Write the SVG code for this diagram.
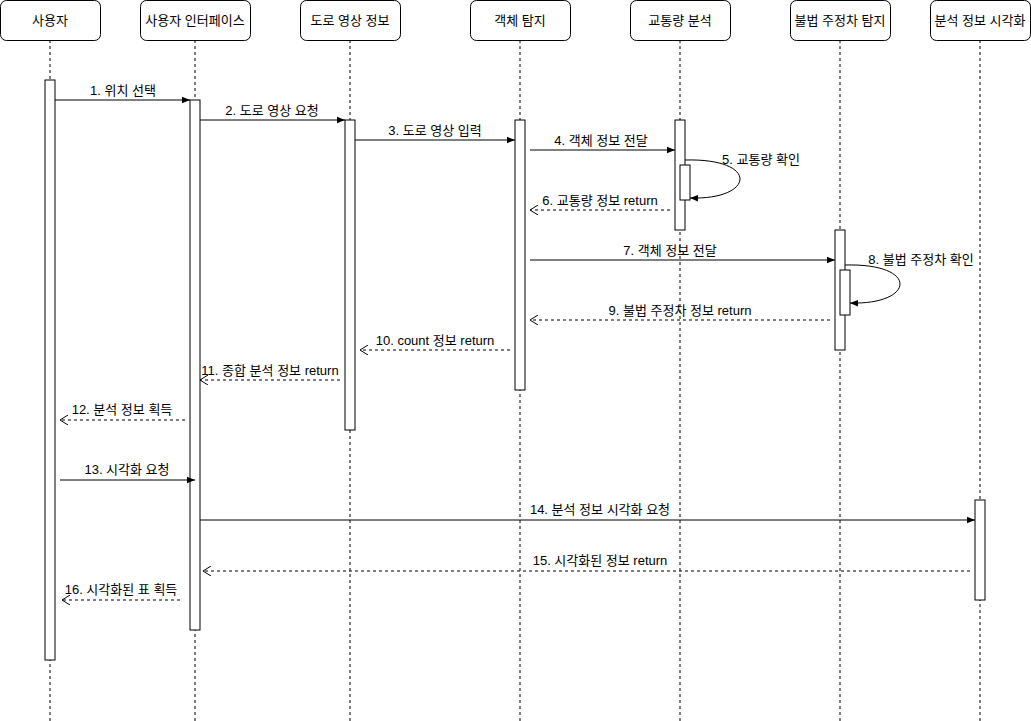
<svg xmlns="http://www.w3.org/2000/svg" width="1031" height="721" viewBox="0 0 1031 721">
<defs>
<marker id="block" viewBox="0 0 10 10" refX="10" refY="5" markerWidth="8" markerHeight="8" markerUnits="userSpaceOnUse" orient="auto">
<path d="M0,1 L10,5 L0,9 Z" fill="#000"/>
</marker>
<marker id="open" viewBox="0 0 10 10" refX="9" refY="5" markerWidth="10" markerHeight="10" markerUnits="userSpaceOnUse" orient="auto">
<path d="M1,0 L9,5 L1,10" fill="none" stroke="#000" stroke-width="1"/>
</marker>
</defs>
<style>
.hdr{fill:#fff;stroke:#000;stroke-width:1}
.life{stroke:#000;stroke-width:1;stroke-dasharray:3 3;fill:none}
.act{fill:#fff;stroke:#000;stroke-width:1}
.msg{stroke:#000;stroke-width:1;fill:none;marker-end:url(#block)}
.ret{stroke:#000;stroke-width:1;stroke-dasharray:3 3;fill:none;marker-end:url(#open)}
text{font-family:"Liberation Sans","Noto Sans CJK KR",sans-serif;fill:#000}
.ht{font-size:13px;text-anchor:middle}
.lt{font-size:13px;text-anchor:middle}
</style>
<rect width="1031" height="721" fill="#fff"/>
<g id="lifelines">
<line class="life" x1="50" y1="40" x2="50" y2="721"/>
<line class="life" x1="195" y1="40" x2="195" y2="721"/>
<line class="life" x1="350" y1="40" x2="350" y2="721"/>
<line class="life" x1="520" y1="40" x2="520" y2="721"/>
<line class="life" x1="680" y1="40" x2="680" y2="721"/>
<line class="life" x1="840" y1="40" x2="840" y2="721"/>
<line class="life" x1="980" y1="40" x2="980" y2="721"/>
</g>
<g id="node-user"><rect class="hdr" x="0.5" y="0.5" width="100" height="40" rx="6"/><text class="ht" x="50" y="25">사용자</text><rect class="act" x="45" y="80" width="10" height="580"/></g>
<g id="node-ui"><rect class="hdr" x="140.5" y="0.5" width="110" height="40" rx="6"/><text class="ht" x="195" y="25">사용자 인터페이스</text><rect class="act" x="190" y="100" width="10" height="530"/></g>
<g id="node-road"><rect class="hdr" x="300.5" y="0.5" width="100" height="40" rx="6"/><text class="ht" x="350" y="25">도로 영상 정보</text><rect class="act" x="345" y="120" width="10" height="310"/></g>
<g id="node-detect"><rect class="hdr" x="470.5" y="0.5" width="100" height="40" rx="6"/><text class="ht" x="520" y="25">객체 탐지</text><rect class="act" x="515" y="120" width="10" height="270"/></g>
<g id="node-traffic"><rect class="hdr" x="630.5" y="0.5" width="100" height="40" rx="6"/><text class="ht" x="680" y="25">교통량 분석</text><rect class="act" x="675" y="120" width="10" height="110"/><rect class="act" x="680" y="165" width="10" height="35"/></g>
<g id="node-illegal"><rect class="hdr" x="790.5" y="0.5" width="100" height="40" rx="6"/><text class="ht" x="840" y="25">불법 주정차 탐지</text><rect class="act" x="835" y="230" width="10" height="120"/><rect class="act" x="840" y="270" width="10" height="45"/></g>
<g id="node-vis"><rect class="hdr" x="930.5" y="0.5" width="100" height="40" rx="6"/><text class="ht" x="980" y="25">분석 정보 시각화</text><rect class="act" x="975" y="500" width="10" height="100"/></g>
<g id="connectors">
<line class="msg" x1="55" y1="100" x2="190" y2="100"/>
<line class="msg" x1="200" y1="120" x2="345" y2="120"/>
<line class="msg" x1="355" y1="140" x2="515" y2="140"/>
<line class="msg" x1="530" y1="150" x2="675" y2="150"/>
<path class="msg" d="M685,160 C760,158 755,200 690,198"/>
<line class="ret" x1="670" y1="210" x2="530" y2="210"/>
<line class="msg" x1="530" y1="260" x2="835" y2="260"/>
<path class="msg" d="M845,265 C920,263 915,305 850,303"/>
<line class="ret" x1="830" y1="320" x2="530" y2="320"/>
<line class="ret" x1="510" y1="350" x2="360" y2="350"/>
<line class="ret" x1="340" y1="380" x2="200" y2="380"/>
<line class="ret" x1="185" y1="420" x2="60" y2="420"/>
<line class="msg" x1="60" y1="480" x2="195" y2="480"/>
<line class="msg" x1="200" y1="520" x2="975" y2="520"/>
<line class="ret" x1="970" y1="571" x2="203" y2="571"/>
<line class="ret" x1="180" y1="600" x2="62" y2="600"/>
</g>
<g id="labels">
<text class="lt" x="123" y="95">1. 위치 선택</text>
<text class="lt" x="272" y="115">2. 도로 영상 요청</text>
<text class="lt" x="435" y="135">3. 도로 영상 입력</text>
<text class="lt" x="601" y="145">4. 객체 정보 전달</text>
<text class="lt" x="761" y="164">5. 교통량 확인</text>
<text class="lt" x="600" y="205">6. 교통량 정보 return</text>
<text class="lt" x="670" y="255">7. 객체 정보 전달</text>
<text class="lt" x="921" y="264">8. 불법 주정차 확인</text>
<text class="lt" x="680" y="315">9. 불법 주정차 정보 return</text>
<text class="lt" x="435" y="345">10. count 정보 return</text>
<text class="lt" x="270" y="375">11. 종합 분석 정보 return</text>
<text class="lt" x="122" y="414">12. 분석 정보 획득</text>
<text class="lt" x="127" y="474">13. 시각화 요청</text>
<text class="lt" x="600" y="514">14. 분석 정보 시각화 요청</text>
<text class="lt" x="600" y="565">15. 시각화된 정보 return</text>
<text class="lt" x="121" y="594">16. 시각화된 표 획득</text>
</g>
</svg>
